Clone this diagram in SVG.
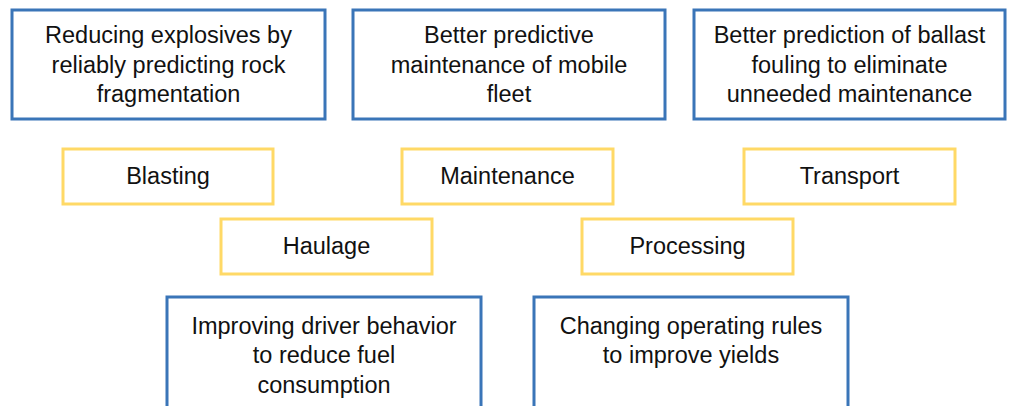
<svg xmlns="http://www.w3.org/2000/svg" width="1009" height="406" viewBox="0 0 1009 406">
<style>
.blue{fill:#fff;stroke:#3A75B8;stroke-width:3}
.yel{fill:#fff;stroke:#FFD966;stroke-width:3}
text{font-family:"Liberation Sans",Arial,sans-serif;font-size:23.5px;fill:#111;text-anchor:middle}
</style>
<rect width="1009" height="406" fill="#fff"/>
<g id="connectors"></g>
<g id="n-blast-goal"><rect class="blue" x="12" y="10" width="313" height="109"/>
<text x="168.5" y="43">Reducing explosives by</text><text x="168.5" y="72.5">reliably predicting rock</text><text x="168.5" y="102">fragmentation</text></g>
<g id="n-maint-goal"><rect class="blue" x="353" y="10" width="312" height="109"/>
<text x="509" y="43">Better predictive</text><text x="509" y="72.5">maintenance of mobile</text><text x="509" y="102">fleet</text></g>
<g id="n-trans-goal"><rect class="blue" x="694" y="10" width="311" height="109"/>
<text x="849.5" y="43">Better prediction of ballast</text><text x="849.5" y="72.5">fouling to eliminate</text><text x="849.5" y="102">unneeded maintenance</text></g>
<g id="n-blasting"><rect class="yel" x="63" y="149" width="210" height="55"/><text x="168" y="184">Blasting</text></g>
<g id="n-maintenance"><rect class="yel" x="402" y="149" width="211" height="55"/><text x="507.5" y="184">Maintenance</text></g>
<g id="n-transport"><rect class="yel" x="744" y="149" width="211" height="55"/><text x="849.5" y="184">Transport</text></g>
<g id="n-haulage"><rect class="yel" x="221" y="219" width="211" height="55"/><text x="326.5" y="254">Haulage</text></g>
<g id="n-processing"><rect class="yel" x="582" y="219" width="211" height="55"/><text x="687.5" y="254">Processing</text></g>
<g id="n-haul-goal"><rect class="blue" x="167" y="297" width="314" height="120"/>
<text x="324" y="334">Improving driver behavior</text><text x="324" y="363">to reduce fuel</text><text x="324" y="393">consumption</text></g>
<g id="n-proc-goal"><rect class="blue" x="534" y="297" width="314" height="120"/>
<text x="691" y="334">Changing operating rules</text><text x="691" y="363">to improve yields</text></g>
</svg>
